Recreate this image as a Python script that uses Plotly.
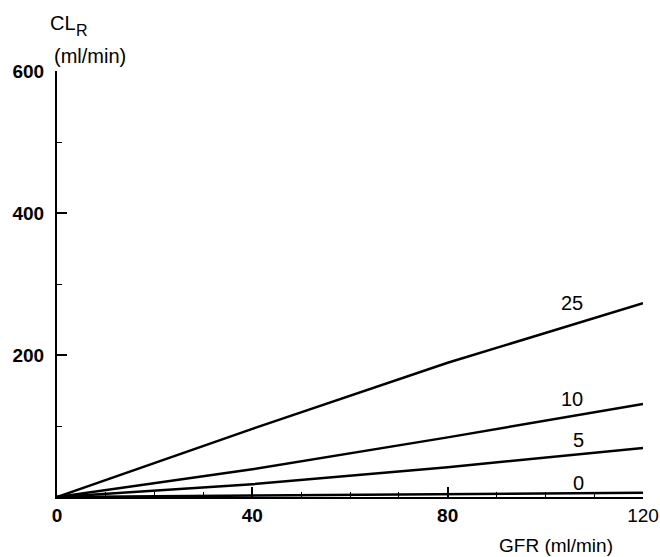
import plotly.graph_objects as go

gfr = [0, 40, 80, 120]
series_names = ["25", "10", "5", "0"]
cl_25 = [0, 96, 189, 273]
cl_10 = [0, 39, 84, 131]
cl_5 = [0, 18, 42, 69]
cl_0 = [0, 2, 4, 6]
label_x = [105.5, 105.5, 106.8, 106.8]
label_y = [273, 138, 80, 20]

FONT = "Liberation Sans, Arial"

fig = go.Figure()
for name, ys in zip(series_names, [cl_25, cl_10, cl_5, cl_0]):
    fig.add_trace(go.Scatter(x=gfr, y=ys, mode="lines", name=name,
                             line=dict(color="black", width=2.5),
                             cliponaxis=False, showlegend=False))

for name, lx, ly in zip(series_names, label_x, label_y):
    fig.add_annotation(x=lx, y=ly, text=name, showarrow=False,
                       font=dict(family=FONT, size=20, color="black"))

fig.add_annotation(xref="paper", yref="paper", x=-0.0154, y=1.113, xanchor="left", yanchor="middle",
                   text="CL", showarrow=False,
                   font=dict(family=FONT, size=20, color="black"))
fig.add_annotation(xref="paper", yref="paper", x=0.029, y=1.094, xanchor="left", yanchor="middle",
                   text="R", showarrow=False,
                   font=dict(family=FONT, size=16, color="black"))
fig.add_annotation(xref="paper", yref="paper", x=-0.0085, y=1.035, xanchor="left", yanchor="middle",
                   text="(ml/min)", showarrow=False,
                   font=dict(family=FONT, size=20, color="black"))
fig.add_annotation(xref="paper", yref="paper", x=0.952, y=-0.115, xanchor="right", yanchor="middle",
                   text="GFR (ml/min)", showarrow=False,
                   font=dict(family=FONT, size=19, color="black"))

fig.update_xaxes(range=[0, 120], tickvals=[0, 40, 80, 120],
                 ticktext=["<b>0</b>", "<b>40</b>", "<b>80</b>", "120"],
                 ticks="inside", ticklen=10, automargin=False,
                 tickwidth=1.5, tickcolor="black", showline=True, linecolor="black", linewidth=2,
                 showgrid=False, zeroline=False,
                 minor=dict(dtick=10, ticks="inside", ticklen=5, tickcolor="black", tickwidth=1.2),
                 tickfont=dict(family=FONT, size=19, color="black"))
fig.update_yaxes(range=[0, 600], tickvals=[200, 400, 600], ticks="inside", ticklen=10,
                 tickwidth=1.5, tickcolor="black", showline=True, linecolor="black", linewidth=2,
                 showgrid=False, zeroline=False, ticklabelstandoff=7, automargin=False,
                 minor=dict(dtick=100, ticks="inside", ticklen=5, tickcolor="black", tickwidth=1.2),
                 tickfont=dict(family=FONT, size=19, color="black", weight="bold"))

fig.update_layout(width=660, height=557, plot_bgcolor="white", paper_bgcolor="white",
                  margin=dict(l=57, r=17, t=71, b=60), hovermode=False)

fig.write_html("out.html", config={"displayModeBar": False},
               post_script="document.body.style.margin='0';document.body.style.overflow='hidden';")
